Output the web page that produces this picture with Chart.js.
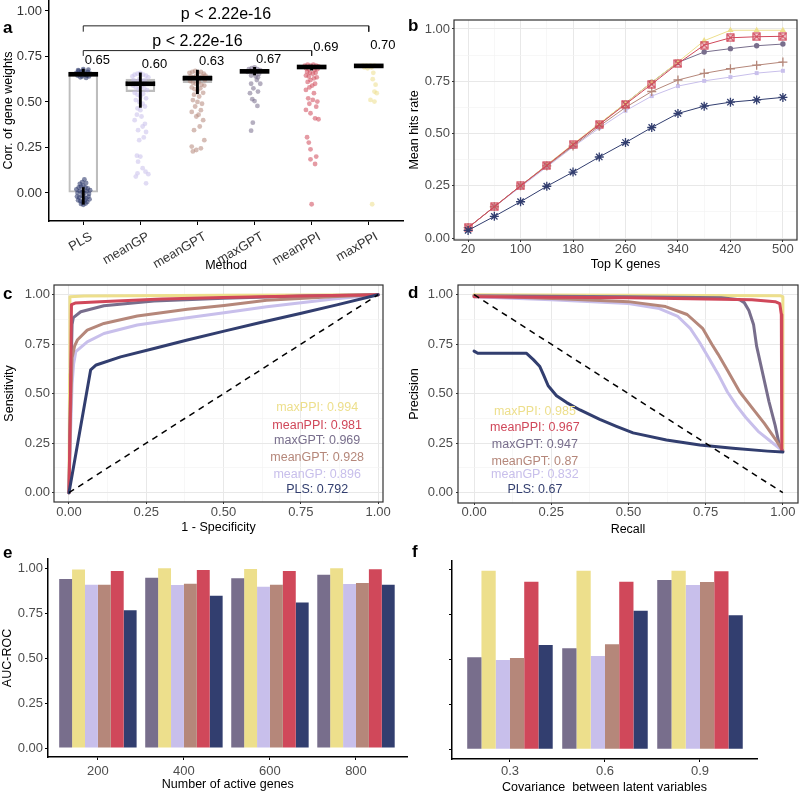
<!DOCTYPE html>
<html><head><meta charset="utf-8">
<script src="https://cdn.jsdelivr.net/npm/chart.js@4.4.1/dist/chart.umd.min.js"></script>
<style>
html,body{margin:0;padding:0;background:#fff;}
#wrap{position:relative;width:800px;height:794px;overflow:hidden;background:#fff}
#wrap canvas{position:absolute}
.lt{position:absolute;font-family:"Liberation Sans",Arial,sans-serif;font-weight:bold;font-size:17px;line-height:17px;color:#000}
</style></head>
<body><div id="wrap">
<canvas id="cA"></canvas><canvas id="cB"></canvas><canvas id="cC"></canvas><canvas id="cD"></canvas><canvas id="cE"></canvas><canvas id="cF"></canvas>
<div class="lt" style="left:3px;top:19px">a</div>
<div class="lt" style="left:408px;top:17px">b</div>
<div class="lt" style="left:3px;top:285px">c</div>
<div class="lt" style="left:408px;top:284px">d</div>
<div class="lt" style="left:3px;top:544px">e</div>
<div class="lt" style="left:412px;top:543px">f</div>
</div>
<script>
// ================= DATA =================
// panel a
const methods = ['PLS','meanGP','meanGPT','maxGPT','meanPPI','maxPPI'];
const boxLow  = [0.004,0.557,0.606,0.662,0.686,0.694];
const boxHigh = [0.658,0.625,0.648,0.676,0.700,0.702];
const medians = [0.652,0.600,0.630,0.668,0.692,0.698];
const whiskerCat  = [0,0,1,2,3,4];
const whiskerLow  = [-0.062,0.645,0.470,0.545,0.648,0.675];
const whiskerHigh = [0.030,0.680,0.660,0.675,0.690,0.702];
const medLabelY = [0.727,0.707,0.721,0.731,0.798,0.813];
const pTexts = ['p < 2.22e-16','p < 2.22e-16'];
const bracketFrom = [0,0];
const bracketTo = [5,4];
const bracketY = [0.918,0.782];
const bracketTipY = [0.886,0.753];
const pTextY = [0.978,0.831];
const yTicksA = [0,0.25,0.5,0.75,1];
// jitter points: [x offset within category, value]
const jitPLS = [[-0.12,0.66],[-0.08,0.67],[-0.04,0.665],[0,0.672],[0.04,0.66],[0.08,0.665],[0.12,0.655],[-0.1,0.645],[-0.06,0.655],[-0.02,0.64],[0.02,0.65],[0.06,0.645],[0.1,0.64],[-0.05,0.635],[0.05,0.632],[0,0.68],[-0.09,0.675],[0.09,0.678],
 [-0.12,0.02],[-0.08,0.03],[-0.04,0.035],[0,0.04],[0.04,0.03],[0.08,0.025],[0.12,0.015],[-0.1,0.0],[-0.06,0.01],[-0.02,0.005],[0.02,0.0],[0.06,0.01],[0.1,-0.005],[-0.11,-0.02],[-0.07,-0.025],[-0.03,-0.015],[0.01,-0.02],[0.05,-0.03],[0.09,-0.02],[-0.09,-0.04],[-0.05,-0.045],[-0.01,-0.05],[0.03,-0.04],[0.07,-0.05],[0.11,-0.035],[-0.04,-0.06],[0,-0.065],[0.04,-0.058],[-0.02,0.06],[0.02,0.075],[0.05,0.055],[-0.06,0.05]];
const jitMeanGP = [[-0.14,0.64],[-0.1,0.65],[-0.05,0.655],[0,0.66],[0.05,0.65],[0.1,0.645],[0.14,0.635],[-0.12,0.62],[-0.07,0.61],[-0.02,0.625],[0.03,0.615],[0.08,0.62],[0.13,0.6],[-0.13,0.59],[-0.08,0.58],[-0.03,0.57],[0.02,0.585],[0.07,0.575],[0.12,0.565],[-0.1,0.55],[-0.05,0.54],[0,0.53],[0.05,0.545],[0.1,0.52],[-0.08,0.51],[-0.02,0.5],[0.04,0.49],[0.08,0.475],[-0.05,0.465],[0,0.455],
 [-0.06,0.43],[0.02,0.42],[-0.1,0.40],[0.08,0.38],[0.04,0.365],[-0.04,0.345],[0.1,0.335],[0.06,0.305],[-0.02,0.29],[-0.06,0.205],[0,0.2],[-0.04,0.172],[0.04,0.136],[0.09,0.117],[-0.05,0.108],[0.14,0.103],[-0.08,0.09],[0.1,0.053]];
const jitMeanGPT = [[-0.14,0.66],[-0.09,0.665],[-0.04,0.67],[0.01,0.66],[0.06,0.665],[0.11,0.655],[0.14,0.645],[-0.12,0.64],[-0.07,0.635],[-0.02,0.645],[0.03,0.63],[0.08,0.64],[0.13,0.62],[-0.13,0.615],[-0.08,0.605],[-0.03,0.6],[0.02,0.61],[0.07,0.595],[0.12,0.59],[-0.1,0.58],[-0.05,0.57],[0,0.56],[0.05,0.575],[0.1,0.55],[-0.06,0.54],[0.03,0.53],
 [-0.08,0.51],[0,0.5],[0.08,0.49],[-0.04,0.475],[0.06,0.455],[-0.1,0.445],[0.02,0.43],[-0.02,0.42],[0.1,0.40],[0.04,0.365],[-0.06,0.345],[0.12,0.29],[-0.1,0.255],[0.06,0.245],[-0.02,0.236],[-0.08,0.228]];
const jitMaxGPT = [[-0.1,0.68],[-0.05,0.685],[0,0.69],[0.05,0.68],[0.1,0.675],[-0.12,0.665],[-0.07,0.67],[-0.02,0.66],[0.03,0.665],[0.08,0.655],[-0.06,0.645],[0.02,0.64],[0.06,0.635],
 [0.04,0.62],[-0.06,0.6],[0.1,0.6],[-0.02,0.575],[-0.08,0.548],[0.06,0.557],[-0.04,0.515],[0,0.505],[0.05,0.478],[-0.03,0.386],[-0.06,0.342]];
const jitMeanPPI = [[-0.12,0.70],[-0.07,0.705],[-0.02,0.70],[0.03,0.705],[0.08,0.70],[0.12,0.695],[-0.1,0.685],[-0.05,0.68],[0,0.69],[0.05,0.675],[0.1,0.68],[-0.08,0.665],[-0.03,0.66],[0.02,0.655],[0.07,0.66],[-0.1,0.645],[-0.05,0.64],[0.04,0.63],[0.09,0.635],[-0.02,0.62],[-0.07,0.61],[0.06,0.6],[0.01,0.59],[-0.04,0.58],
 [-0.1,0.566],[0.04,0.548],[-0.06,0.52],[0.02,0.511],[0.1,0.502],[-0.04,0.49],[0.08,0.474],[-0.1,0.456],[-0.02,0.438],[0.06,0.41],[0.12,0.405],[-0.08,0.306],[-0.05,0.277],[-0.02,0.24],[0.08,0.2],[-0.02,0.185],[0.06,0.159],[0,-0.062]];
const jitMaxPPI = [[-0.1,0.70],[-0.04,0.70],[0.03,0.70],[0.1,0.70],[-0.08,0.69],[0.05,0.69],[-0.02,0.685],[0.08,0.66],[0.07,0.625],[0.12,0.595],[0.1,0.557],[0.14,0.548],[0.03,0.511],[0.1,0.502],[0.06,-0.062]];

// panel b
const topK = [20,60,100,140,180,220,260,300,340,380,420,460,500];
const hitsMaxGPT  = [0.050,0.150,0.250,0.350,0.445,0.545,0.645,0.745,0.840,0.890,0.906,0.920,0.928];
const hitsMaxPPI  = [0.050,0.150,0.250,0.350,0.450,0.548,0.645,0.745,0.842,0.944,0.994,0.994,0.994];
const hitsMeanGP  = [0.050,0.150,0.245,0.340,0.436,0.526,0.609,0.679,0.727,0.752,0.770,0.789,0.800];
const hitsMeanGPT = [0.050,0.150,0.250,0.345,0.440,0.535,0.625,0.701,0.756,0.788,0.810,0.827,0.842];
const hitsMeanPPI = [0.050,0.150,0.250,0.347,0.447,0.543,0.640,0.736,0.835,0.923,0.958,0.963,0.965];
const hitsPLS     = [0.037,0.104,0.174,0.248,0.316,0.388,0.457,0.529,0.596,0.631,0.650,0.661,0.673];
const yTicksB = [0,0.125,0.25,0.375,0.5,0.625,0.75,0.875,1];
const unitTicks = [0,0.125,0.25,0.375,0.5,0.625,0.75,0.875,1];

// panel c: ROC [1-specificity, sensitivity]
const rocPLS = [[0,0],[0.07,0.62],[0.088,0.645],[0.167,0.686],[0.275,0.728],[0.383,0.771],[0.502,0.816],[0.62,0.86],[0.748,0.905],[0.87,0.95],[1,1]];
const rocMeanGP = [[0,0],[0.005,0.3],[0.01,0.55],[0.015,0.65],[0.022,0.712],[0.059,0.762],[0.113,0.804],[0.221,0.847],[0.383,0.884],[0.502,0.909],[0.64,0.939],[0.855,0.978],[1,1]];
const rocMeanGPT = [[0,0],[0.005,0.4],[0.01,0.68],[0.018,0.74],[0.027,0.771],[0.059,0.821],[0.113,0.855],[0.221,0.892],[0.383,0.926],[0.502,0.946],[0.64,0.972],[0.85,0.99],[1,1]];
const rocMaxGPT = [[0,0],[0.005,0.5],[0.01,0.85],[0.014,0.884],[0.038,0.914],[0.113,0.944],[0.275,0.968],[0.502,0.982],[0.75,0.993],[1,1]];
const rocMeanPPI = [[0,0],[0.005,0.5],[0.008,0.95],[0.02,0.958],[0.1,0.965],[0.3,0.978],[0.5,0.986],[0.75,0.994],[1,1]];
const rocMaxPPI = [[0,0],[0.002,0.6],[0.003,0.99],[0.05,0.993],[0.5,0.997],[1,1]];
const rocDiag = [[0,0],[1,1]];
const legendNames = ['maxPPI','meanPPI','maxGPT','meanGPT','meanGP','PLS'];
const aucROC = [0.994,0.981,0.969,0.928,0.896,0.792];
const legendYc = [0.428,0.341,0.261,0.177,0.091,0.017];

// panel d: PR [recall, precision]
const prPLS = [[0,0.715],[0.012,0.704],[0.17,0.704],[0.192,0.672],[0.213,0.637],[0.225,0.595],[0.24,0.54],[0.267,0.49],[0.3,0.455],[0.343,0.418],[0.407,0.37],[0.461,0.335],[0.515,0.302],[0.623,0.266],[0.731,0.241],[0.838,0.224],[0.95,0.21],[1,0.205]];
const prMeanGP = [[0,0.99],[0.25,0.975],[0.5,0.955],[0.6,0.93],[0.66,0.89],[0.7,0.83],[0.73,0.76],[0.76,0.68],[0.79,0.6],[0.82,0.51],[0.85,0.44],[0.88,0.38],[0.92,0.31],[0.96,0.26],[1,0.21]];
const prMeanGPT = [[0,0.995],[0.3,0.978],[0.5,0.965],[0.62,0.94],[0.69,0.9],[0.74,0.83],[0.77,0.75],[0.79,0.7],[0.82,0.62],[0.86,0.51],[0.9,0.43],[0.94,0.35],[0.98,0.26],[1,0.21]];
const prMaxGPT = [[0,0.995],[0.5,0.99],[0.8,0.985],[0.86,0.975],[0.875,0.96],[0.89,0.92],[0.905,0.85],[0.915,0.74],[0.935,0.6],[0.955,0.46],[0.975,0.34],[0.99,0.23],[1,0.21]];
const prMeanPPI = [[0,0.99],[0.5,0.985],[0.9,0.975],[0.975,0.965],[0.99,0.955],[0.995,0.9],[0.996,0.5],[0.997,0.21]];
const prMaxPPI = [[0,1],[0.5,0.997],[0.99,0.995],[1,0.99],[1,0.22]];
const prDiag = [[0,1],[1,0]];
const aucPR = [0.985,0.967,0.947,0.87,0.832,0.67];
const legendYd = [0.411,0.330,0.244,0.156,0.093,0.018];

// panel e
const activeGenes = ['200','400','600','800'];
const eMaxGPT  = [0.939,0.946,0.943,0.963];
const eMaxPPI  = [0.991,0.998,0.994,0.998];
const eMeanGP  = [0.907,0.906,0.896,0.911];
const eMeanGPT = [0.907,0.913,0.907,0.917];
const eMeanPPI = [0.983,0.989,0.983,0.993];
const ePLS     = [0.765,0.846,0.809,0.907];
// panel f
const covLevels = ['0.3','0.6','0.9'];
const fMaxGPT  = [0.513,0.563,0.944];
const fMaxPPI  = [0.996,0.996,0.996];
const fMeanGP  = [0.498,0.520,0.916];
const fMeanGPT = [0.509,0.586,0.933];
const fMeanPPI = [0.935,0.935,0.993];
const fPLS     = [0.582,0.773,0.747];
const barTicks = [0,0.25,0.5,0.75,1];

// ================= STYLE / HELPERS =================
const COL = {PLS:'#323E6F', meanGP:'#C8BFEB', meanGPT:'#B5877A', maxGPT:'#786E8C', meanPPI:'#D0485A', maxPPI:'#EDDF8C'};
const FONT = '"Liberation Sans", Arial, Helvetica, sans-serif';
Chart.defaults.font.family = FONT;
Chart.defaults.animation = false;
Chart.defaults.plugins.legend.display = false;
Chart.defaults.plugins.tooltip.enabled = false;
const LH = 15, TICK = {size:13}, TITLE = {size:12.5};
const TCOL = '#4D4D4D';

function rgba(hex,a){const n=parseInt(hex.slice(1),16);return 'rgba('+(n>>16)+','+((n>>8)&255)+','+(n&255)+','+a+')';}

function place(id, area, yTitleX, xTitleY){
  const yLeft = yTitleX - LH/2;
  const yW = area.l - yLeft;
  const xH = (xTitleY + LH/2) - area.b;
  const M = 20;
  const L = Math.floor(yLeft) - M, T = Math.floor(area.t) - M;
  const W = Math.ceil(area.r + M - L), H = Math.ceil(area.b + xH + M - T);
  const cv = document.getElementById(id);
  cv.width = W; cv.height = H;
  cv.style.left = L+'px'; cv.style.top = T+'px';
  cv.style.width = W+'px'; cv.style.height = H+'px';
  return {yW, xH, pad:{left: yLeft - L, top: area.t - T, right: L + W - area.r, bottom: T + H - (area.b + xH)}};
}

const ANN = {};
Chart.register({
  id:'annot',
  afterDatasetsDraw(chart){
    const o = ANN[chart.canvas.id]; if(!o) return;
    const ctx = chart.ctx, ca = chart.chartArea;
    (o.items||[]).forEach(it=>{
      ctx.save();
      ctx.font = it.font; ctx.fillStyle = it.color; ctx.textAlign = it.align||'center'; ctx.textBaseline='middle';
      ctx.fillText(it.text, chart.scales.x.getPixelForValue(it.x)+(it.dx||0), chart.scales.y.getPixelForValue(it.y));
      ctx.restore();
    });
    if(o.frame){
      ctx.save(); ctx.strokeStyle = o.frame; ctx.lineWidth = 1.2;
      ctx.strokeRect(ca.left, ca.top, ca.right-ca.left, ca.bottom-ca.top);
      ctx.restore();
    }
  }
});

function setTicks(vals){ return s => { s.ticks = vals.map(v=>({value:v})); }; }
const isQuarter = v => Math.abs(v*4 - Math.round(v*4)) < 1e-6;

// ================= PANEL A =================
(function(){
  const P = place('cA', {l:49,t:0,r:403,b:221}, 8.5, 266);
  const jit = [jitPLS,jitMeanGP,jitMeanGPT,jitMaxGPT,jitMeanPPI,jitMaxPPI];
  const ds = [];
  ds.push({type:'bar', data: medians.map((m,i)=>({x:i,y:[m-0.011,m+0.011]})), backgroundColor:'#000', borderWidth:0, barThickness:29, grouped:false, order:0});
  ds.push({type:'bar', data: whiskerCat.map((c,i)=>({x:c,y:[whiskerLow[i],whiskerHigh[i]]})), backgroundColor:'#000', borderWidth:0, barThickness:2.2, grouped:false, order:1});
  jit.forEach((arr,k)=>ds.push({type:'scatter', data: arr.map(p=>({x:k+p[0],y:p[1]})), pointRadius:2.4, pointBackgroundColor: rgba(COL[methods[k]], k===0?0.6:0.55), pointBorderWidth:0, order:2}));
  ds.push({type:'bar', data: boxLow.map((lo,i)=>({x:i,y:[lo,boxHigh[i]]})), backgroundColor:'rgba(0,0,0,0)', borderColor:'#BDBDBD', borderWidth:1.5, borderSkipped:false, barThickness:29, grouped:false, order:3});
  bracketY.forEach((by,k)=>ds.push({type:'line', data:[{x:bracketFrom[k],y:bracketTipY[k]},{x:bracketFrom[k],y:by},{x:bracketTo[k],y:by},{x:bracketTo[k],y:bracketTipY[k]}], borderColor:'#222', borderWidth:1, pointRadius:0, fill:false, tension:0, order:4}));
  const items = [];
  pTexts.forEach((t,k)=>items.push({text:t, x:(bracketFrom[k]+bracketTo[k])/2, y:pTextY[k], font:'16px '+FONT, color:'#000'}));
  medians.forEach((m,i)=>items.push({text:m.toFixed(2), x:i, dx:1.5, y:medLabelY[i], font:'13px '+FONT, color:'#000', align:'left'}));
  ANN.cA = {items};
  new Chart(document.getElementById('cA'), {
    type:'scatter', data:{datasets:ds},
    options:{responsive:false, layout:{padding:P.pad, autoPadding:false},
      scales:{
        x:{type:'linear', min:-0.6, max:5.6, bounds:'data', offset:false,
          afterBuildTicks:setTicks(methods.map((m,i)=>i)), afterFit:s=>{s.height=P.xH;},
          ticks:{autoSkip:false, minRotation:30, maxRotation:30, labelOffset:8, callback:v=>methods[v], font:TICK, color:'#333', padding:4},
          grid:{display:true, drawOnChartArea:false, drawTicks:true, tickLength:4, tickColor:'#000', offset:false},
          border:{display:true, color:'#000', width:1.5},
          title:{display:true, text:'Method', font:TITLE, color:'#000', padding:0}},
        y:{type:'linear', min:-0.154, max:1.06, bounds:'data',
          afterBuildTicks:setTicks(yTicksA), afterFit:s=>{s.width=P.yW;},
          ticks:{callback:v=>v.toFixed(2), font:TICK, color:'#333', padding:3},
          grid:{display:true, drawOnChartArea:false, drawTicks:true, tickLength:4, tickColor:'#000'},
          border:{display:true, color:'#000', width:1.5},
          title:{display:true, text:'Corr. of gene weights', font:TITLE, color:'#000', padding:0}}
      }}
  });
})();

// ================= PANEL B =================
(function(){
  const P = place('cB', {l:454,t:20,r:797,b:240}, 415, 265);
  const sq = document.createElement('canvas'); sq.width = 9; sq.height = 9;
  const g = sq.getContext('2d'); g.strokeStyle = COL.meanPPI; g.lineWidth = 1.2;
  g.strokeRect(1,1,7,7); g.beginPath(); g.moveTo(1,1); g.lineTo(8,8); g.moveTo(8,1); g.lineTo(1,8); g.stroke();
  const series = [
    {d:hitsMaxGPT, c:COL.maxGPT, ps:'circle', r:2.7, fill:true},
    {d:hitsMaxPPI, c:COL.maxPPI, ps:'triangle', r:3.6, fill:true},
    {d:hitsMeanGP, c:COL.meanGP, ps:'rect', r:2.8, fill:true},
    {d:hitsMeanGPT, c:COL.meanGPT, ps:'cross', r:4.5, fill:false},
    {d:hitsMeanPPI, c:COL.meanPPI, ps:sq, r:4.5, fill:false},
    {d:hitsPLS, c:COL.PLS, ps:'star', r:4.5, fill:false}
  ];
  const ds = series.map((s,k)=>({data: topK.map((x,i)=>({x, y:s.d[i]})), borderColor:s.c, backgroundColor:s.c, borderWidth:1,
    pointStyle:s.ps, pointRadius:s.r, pointBackgroundColor: s.fill? s.c : 'rgba(0,0,0,0)', pointBorderColor:s.c, pointBorderWidth: s.fill?0:1.3, tension:0, fill:false, order: 6-k}));
  ANN.cB = {frame:'#333', items:[]};
  const gridB = (majorFn)=>({display:true, drawTicks:true, tickLength:2,
    color:c=> c.tick && majorFn(c.tick.value) ? '#E8E8E8' : '#F3F3F3',
    lineWidth:c=> c.tick && majorFn(c.tick.value) ? 1 : 0.7,
    tickColor:c=> c.tick && majorFn(c.tick.value) ? '#333' : 'rgba(0,0,0,0)'});
  const majX = v => (v-20)%80===0;
  new Chart(document.getElementById('cB'), {
    type:'line', data:{datasets:ds},
    options:{responsive:false, layout:{padding:P.pad, autoPadding:false},
      scales:{
        x:{type:'linear', min:-1.5, max:521.5, bounds:'data', offset:false,
          afterBuildTicks:setTicks(topK), afterFit:s=>{s.height=P.xH;},
          ticks:{autoSkip:false, maxRotation:0, callback:v=>majX(v)?String(v):'', font:TICK, color:TCOL, padding:0},
          grid:gridB(majX), border:{display:false},
          title:{display:true, text:'Top K genes', font:TITLE, color:'#000', padding:0}},
        y:{type:'linear', min:-0.009, max:1.043, bounds:'data',
          afterBuildTicks:setTicks(yTicksB), afterFit:s=>{s.width=P.yW;},
          ticks:{callback:v=>isQuarter(v)?v.toFixed(2):'', font:TICK, color:TCOL, padding:2},
          grid:gridB(isQuarter), border:{display:false},
          title:{display:true, text:'Mean hits rate', font:TITLE, color:'#000', padding:0}}
      }}
  });
})();

// ================= PANEL C & D =================
function curveChart(id, area, yTitleX, xTitleY, xr, yr, curves, diag, xTitle, yTitle, legendX, legendY, aucs, xpad, ypad){
  const P = place(id, area, yTitleX, xTitleY);
  const ds = curves.map(cv=>({data: cv.d.map(p=>({x:p[0],y:p[1]})), borderColor:cv.c, borderWidth:3, pointRadius:0, tension:0, fill:false, order:cv.o, borderJoinStyle:'round', borderCapStyle:'round'}));
  ds.push({data: diag.map(p=>({x:p[0],y:p[1]})), borderColor:'#000', borderWidth:1.5, borderDash:[6,5], pointRadius:0, tension:0, fill:false, order:0});
  const items = legendNames.map((n,i)=>({text:n+': '+aucs[i], x:legendX, y:legendY[i], font:'12.5px '+FONT, color:COL[n]}));
  ANN[id] = {frame:'#333', items};
  const grid = {display:true, drawTicks:true, tickLength:2,
    color:c=> c.tick && isQuarter(c.tick.value) ? '#E8E8E8' : '#F3F3F3',
    lineWidth:c=> c.tick && isQuarter(c.tick.value) ? 1 : 0.7,
    tickColor:c=> c.tick && isQuarter(c.tick.value) ? '#333' : 'rgba(0,0,0,0)'};
  new Chart(document.getElementById(id), {
    type:'line', data:{datasets:ds},
    options:{responsive:false, layout:{padding:P.pad, autoPadding:false},
      scales:{
        x:{type:'linear', min:xr[0], max:xr[1], bounds:'data', offset:false,
          afterBuildTicks:setTicks(unitTicks), afterFit:s=>{s.height=P.xH;},
          ticks:{autoSkip:false, maxRotation:0, callback:v=>isQuarter(v)?v.toFixed(2):'', font:TICK, color:TCOL, padding:xpad},
          grid, border:{display:false},
          title:{display:true, text:xTitle, font:TITLE, color:'#000', padding:0}},
        y:{type:'linear', min:yr[0], max:yr[1], bounds:'data',
          afterBuildTicks:setTicks(unitTicks), afterFit:s=>{s.width=P.yW;},
          ticks:{callback:v=>isQuarter(v)?v.toFixed(2):'', font:TICK, color:TCOL, padding:ypad},
          grid, border:{display:false},
          title:{display:true, text:yTitle, font:TITLE, color:'#000', padding:0}}
      }}
  });
}
curveChart('cC', {l:54,t:285,r:383,b:502}, 9.5, 528, [-0.0485,1.016], [-0.047,1.049],
  [{d:rocMaxPPI,c:COL.maxPPI,o:6},{d:rocMaxGPT,c:COL.maxGPT,o:5},{d:rocMeanGP,c:COL.meanGP,o:4},{d:rocMeanGPT,c:COL.meanGPT,o:3},{d:rocMeanPPI,c:COL.meanPPI,o:2},{d:rocPLS,c:COL.PLS,o:1}],
  rocDiag, '1 - Specificity', 'Sensitivity', 0.803, legendYc, aucROC, 1, 2);
curveChart('cD', {l:458,t:285,r:798,b:503}, 415, 530, [-0.052,1.049], [-0.052,1.049],
  [{d:prMaxPPI,c:COL.maxPPI,o:6},{d:prMaxGPT,c:COL.maxGPT,o:5},{d:prMeanGP,c:COL.meanGP,o:4},{d:prMeanGPT,c:COL.meanGPT,o:3},{d:prMeanPPI,c:COL.meanPPI,o:2},{d:prPLS,c:COL.PLS,o:1}],
  prDiag, 'Recall', 'Precision', 0.197, legendYd, aucPR, 0, 3);

// ================= PANEL E & F =================
function barChart(id, area, yTitleX, xTitleY, cats, xr, yr, series, yTitle, showYLabels, xTickPad){
  const P = place(id, area, yTitleX, xTitleY);
  const ds = series.map(s=>({data: s.d.map((v,i)=>({x:i,y:v})), backgroundColor:s.c, borderWidth:0, categoryPercentage:0.9, barPercentage:1}));
  new Chart(document.getElementById(id), {
    type:'bar', data:{datasets:ds},
    options:{responsive:false, layout:{padding:P.pad, autoPadding:false},
      scales:{
        x:{type:'linear', min:xr[0], max:xr[1], bounds:'data', offset:false,
          afterBuildTicks:setTicks(cats.map((c,i)=>i)), afterFit:s=>{s.height=P.xH;},
          ticks:{autoSkip:false, maxRotation:0, callback:v=>cats[v], font:TICK, color:TCOL, padding:xTickPad},
          grid:{display:true, drawOnChartArea:false, drawTicks:true, tickLength:3, tickColor:'#000', offset:false},
          border:{display:true, color:'#000', width:1.5},
          title:{display:true, text:series.xTitle, font:TITLE, color:'#000', padding:0}},
        y:{type:'linear', min:yr[0], max:yr[1], bounds:'data', beginAtZero:false,
          afterBuildTicks:setTicks(barTicks), afterFit:s=>{s.width=P.yW;},
          ticks:{callback:v=>showYLabels? v.toFixed(2):'', font:TICK, color:TCOL, padding:2},
          grid:{display:true, drawOnChartArea:false, drawTicks:true, tickLength:3, tickColor:'#000'},
          border:{display:true, color:'#000', width:1.5},
          title:{display:!!yTitle, text:yTitle||'', font:TITLE, color:'#000', padding:0}}
      }}
  });
}
const eSeries = [{d:eMaxGPT,c:COL.maxGPT},{d:eMaxPPI,c:COL.maxPPI},{d:eMeanGP,c:COL.meanGP},{d:eMeanGPT,c:COL.meanGPT},{d:eMeanPPI,c:COL.meanPPI},{d:ePLS,c:COL.PLS}];
eSeries.xTitle = 'Number of active genes';
barChart('cE', {l:48,t:559,r:407.6,b:757}, 7.5, 785, activeGenes, [-0.58,3.6], [-0.05,1.05], eSeries, 'AUC-ROC', true, 4);
const fSeries = [{d:fMaxGPT,c:COL.maxGPT},{d:fMaxPPI,c:COL.maxPPI},{d:fMeanGP,c:COL.meanGP},{d:fMeanGPT,c:COL.meanGPT},{d:fMeanPPI,c:COL.meanPPI},{d:fPLS,c:COL.PLS}];
fSeries.xTitle = 'Covariance  between latent variables';
barChart('cF', {l:452,t:561,r:757,b:759}, 440, 788, covLevels, [-0.61,2.6], [-0.054,1.05], fSeries, '', false, 2);
</script></body></html>
